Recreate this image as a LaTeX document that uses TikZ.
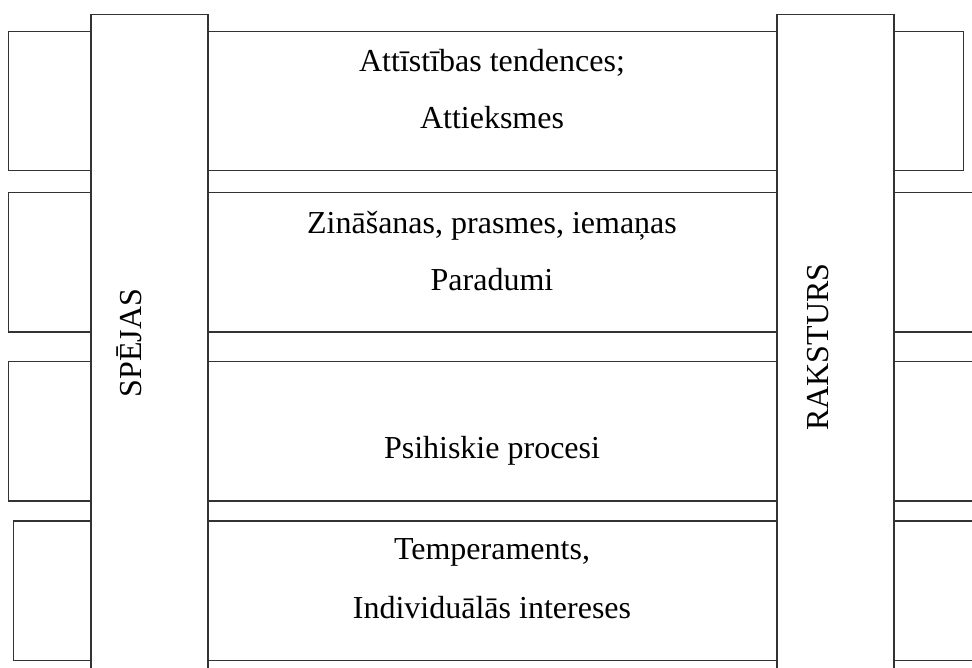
\documentclass[tikz,border=0pt]{standalone}
\usepackage{fontspec}
\setmainfont{Liberation Serif}
\begin{document}
\begin{tikzpicture}[x=1pt,y=-1pt,
  edge/.style={draw=black!80,line width=1.1pt},
  colbox/.style={edge,fill=white},
  lbl/.style={font=\fontsize{32}{38}\selectfont,anchor=base,inner sep=0pt},
  vlbl/.style={lbl,rotate=90}]
\useasboundingbox (0,0) rectangle (972,668);
% horizontal bands
\draw[edge] (8.3,31.7) rectangle (963.7,170.7);
\draw[edge] (972,192.7) -- (8.3,192.7) -- (8.3,332) -- (972,332);
\draw[edge] (972,361.7) -- (8.3,361.7) -- (8.3,501) -- (972,501);
\draw[edge] (972,521) -- (13.3,521) -- (13.3,660.3) -- (972,660.3);
% vertical columns
\filldraw[colbox] (91,668) -- (91,14.7) -- (208,14.7) -- (208,668);
\filldraw[colbox] (777,668) -- (777,14.7) -- (894,14.7) -- (894,668);
% labels
\node[lbl] (t1a) at (492,72) {Attīstības tendences;};
\node[lbl] (t1b) at (492,129) {Attieksmes};
\node[lbl] (t2a) at (492,234) {Zināšanas, prasmes, iemaņas};
\node[lbl] (t2b) at (492,291) {Paradumi};
\node[lbl] (t3) at (492,458) {Psihiskie procesi};
\node[lbl] (t4a) at (492,559) {Temperaments,};
\node[lbl] (t4b) at (492,618) {Individuālās intereses};
\node[vlbl] (spejas) at (141.5,343) {SPĒJAS};
\node[vlbl] (raksturs) at (828,347) {RAKSTURS};
\end{tikzpicture}
\end{document}
